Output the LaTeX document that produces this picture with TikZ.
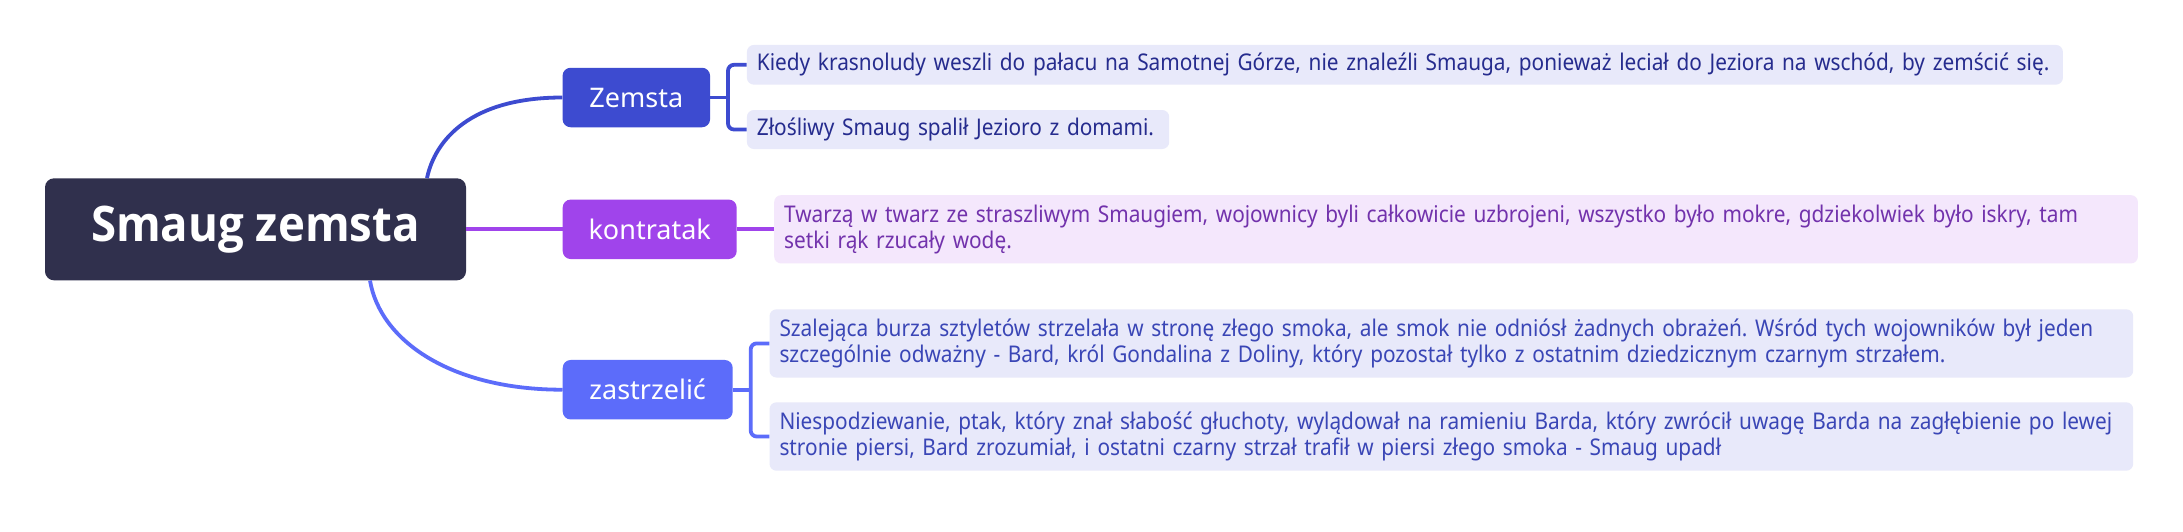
\documentclass[tikz,border=0pt]{standalone}
\usepackage{fontspec}
\setmainfont{Noto Sans}
\newfontfamily\leaffont{Noto Sans}[FakeStretch=0.905]
\newfontfamily\brfont{Noto Sans}
\newfontfamily\rootfont{Open Sans}[FakeStretch=0.93]
\definecolor{rootc}{HTML}{30304D}
\definecolor{zemc}{HTML}{3D4BD0}
\definecolor{konc}{HTML}{A044EB}
\definecolor{zasc}{HTML}{5C6CFA}
\definecolor{leafb}{HTML}{E8E9FA}
\definecolor{leafp}{HTML}{F4E7FC}
\definecolor{txtz}{HTML}{262C8E}
\definecolor{txtk}{HTML}{7232AC}
\definecolor{txts}{HTML}{3A46B6}
\tikzset{
  rootbox/.style={rectangle, rounded corners=9pt, fill=rootc, text=white, inner sep=0pt,
    minimum width=421pt, minimum height=102pt, font={\rootfont\bfseries\fontsize{49}{52}\selectfont}},
  brbox/.style={rectangle, rounded corners=8pt, fill=#1, text=white, inner sep=0pt,
    minimum height=59.5pt, font={\brfont\fontsize{27}{30}\selectfont}},
  leafbox/.style 2 args={rectangle, rounded corners=7pt, fill=#1, text=#2, inner xsep=10pt, inner ysep=0pt,
    align=left, anchor=west, font={\leaffont\frenchspacing\fontsize{23}{25.5}\selectfont}},
  conn/.style={line width=3.8pt, draw=#1},
}
\begin{document}
\begin{tikzpicture}[x=1pt,y=-1pt]
\useasboundingbox (0,0) rectangle (2183,531);
\fill[white] (0,0) rectangle (2183,531);

\node[rootbox] (root) at (255.5,229.3) {Smaug zemsta};
\node[brbox=zemc, minimum width=147.5pt] (zem) at (636.3,97.5) {Zemsta};
\node[brbox=konc, minimum width=174pt] (kon) at (649.7,229.3) {kontratak};
\node[brbox=zasc, minimum width=170pt] (zas) at (647.7,389.7) {zastrzelić};

\node[leafbox={leafb}{txtz}, text width=1296pt, minimum height=39.7pt] (z1) at (746.7,64.8)
  {Kiedy krasnoludy weszli do pałacu na Samotnej Górze, nie znaleźli Smauga, ponieważ leciał do Jeziora na wschód, by zemścić się.};
\node[leafbox={leafb}{txtz}, text width=402.3pt, minimum height=39pt] (z2) at (746.7,129.5)
  {Złośliwy Smaug spalił Jezioro z domami.};
\node[leafbox={leafp}{txtk}, text width=1343.7pt, minimum height=68.3pt] (k1) at (774,229.3)
  {Twarzą w twarz ze straszliwym Smaugiem, wojownicy byli całkowicie uzbrojeni, wszystko było mokre, gdziekolwiek było iskry, tam\\setki rąk rzucały wodę.};
\node[leafbox={leafb}{txts}, text width=1343.7pt, minimum height=68.2pt] (s1) at (769.3,343.4)
  {Szalejąca burza sztyletów strzelała w stronę złego smoka, ale smok nie odniósł żadnych obrażeń. Wśród tych wojowników był jeden\\szczególnie odważny - Bard, król Gondalina z Doliny, który pozostał tylko z ostatnim dziedzicznym czarnym strzałem.};
\node[leafbox={leafb}{txts}, text width=1343.7pt, minimum height=68.4pt] (s2) at (769.3,436.5)
  {Niespodziewanie, ptak, który znał słabość głuchoty, wylądował na ramieniu Barda, który zwrócił uwagę Barda na zagłębienie po lewej\\stronie piersi, Bard zrozumiał, i ostatni czarny strzał trafił w piersi złego smoka - Smaug upadł};

% main branches
\draw[conn=zemc] ([xshift=171.5pt]root.north) .. controls +(8,-38) and +(-92,0) .. (zem.west);
\draw[conn=konc] (root.east) -- (kon.west);
\draw[conn=zasc] ([xshift=114.5pt]root.south) .. controls +(10,60) and +(-112,0) .. (zas.west);

% brackets
\draw[conn=zemc] (zem.east) -- ++(18,0);
\draw[conn=zemc, rounded corners=6pt] (z1.west) -- ++(-18.7,0) |- (z2.west);
\draw[conn=konc] (kon.east) -- (k1.west);
\draw[conn=zasc] (zas.east) -- ++(18,0);
\draw[conn=zasc, rounded corners=6pt] (s1.west) -- ++(-18.6,0) |- (s2.west);
\end{tikzpicture}
\end{document}
